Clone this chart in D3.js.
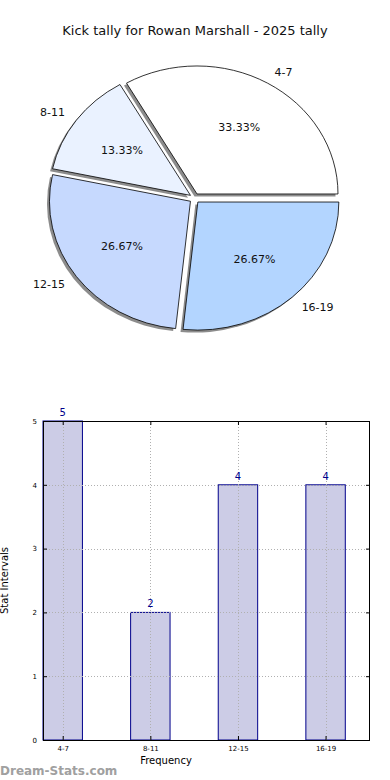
<!DOCTYPE html>
<html><head><meta charset="utf-8">
<script src="https://cdn.jsdelivr.net/npm/d3@7"></script>
<style>body{margin:0;background:#fff}svg{display:block;font-family:"DejaVu Sans",sans-serif}</style>
</head><body>
<svg id="c" width="390" height="780"></svg>
<script>
const title = "Kick tally for Rowan Marshall - 2025 tally";
const categories = ["4-7", "8-11", "12-15", "16-19"];
const values = [5, 2, 4, 4];
const pieColors = ["#ffffff", "#eaf2ff", "#c6d9fe", "#b3d5ff"];
const yTicks = [0, 1, 2, 3, 4, 5];

const svg = d3.select("#c");
svg.append("text").attr("x", 195).attr("y", 35).attr("text-anchor", "middle")
  .attr("font-size", 13).attr("fill", "#111").text(title);

// Pie (elliptical, counterclockwise from 3 o'clock like matplotlib)
const cx = 194.5, cy = 198.3, rx = 141, ry = 128, explode = 5;
const total = d3.sum(values);
const pie = d3.pie().sort(null).value(d => d)
  .startAngle(Math.PI / 2).endAngle(Math.PI / 2 - 2 * Math.PI);
const arcs = pie(values);
const arc = d3.arc().innerRadius(0).outerRadius(1);
const pg = svg.append("g");
function polar(a, r) { return [Math.sin(a) * r, -Math.cos(a) * r]; }
arcs.forEach((a, i) => {
  const mid = (a.startAngle + a.endAngle) / 2;
  const [ux, uy] = polar(mid, 1);
  const ox = cx + ux * explode, oy = cy + uy * explode;
  const path = arc({startAngle: a.startAngle, endAngle: a.endAngle});
  pg.append("path").attr("d", path)
    .attr("transform", `translate(${ox - 2.5},${oy + 2.5}) scale(${rx},${ry})`)
    .attr("fill", "#000").attr("fill-opacity", 0.45);
  a.ox = ox; a.oy = oy; a.mid = mid;
});
arcs.forEach((a, i) => {
  const path = arc({startAngle: a.startAngle, endAngle: a.endAngle});
  pg.append("path").attr("d", path)
    .attr("transform", `translate(${a.ox},${a.oy}) scale(${rx},${ry})`)
    .attr("fill", pieColors[i]).attr("stroke", "#000")
    .attr("stroke-width", 0.8).attr("vector-effect", "non-scaling-stroke");
});
arcs.forEach((a, i) => {
  const [ux, uy] = polar(a.mid, 1);
  const lx = a.ox + ux * rx * 1.1, ly = a.oy + uy * ry * 1.1;
  pg.append("text").attr("x", lx).attr("y", ly).attr("dy", "0.35em")
    .attr("text-anchor", ux >= 0 ? "start" : "end")
    .attr("font-size", 11).attr("fill", "#111").text(categories[i]);
  const px = a.ox + ux * rx * 0.6, py = a.oy + uy * ry * 0.6;
  pg.append("text").attr("x", px).attr("y", py).attr("dy", "0.35em")
    .attr("text-anchor", "middle").attr("font-size", 11).attr("fill", "#111")
    .text((values[i] / total * 100).toFixed(2) + "%");
});

// Bar chart
const L = 43, R = 370, T = 421, B = 740;
const x = d3.scaleLinear().domain([-0.225, 3.507]).range([L, R]);
const y = d3.scaleLinear().domain([0, 5]).range([B, T]);
const bw = x(0.45) - x(0);
const bg = svg.append("g");
bg.selectAll("rect.bar").data(values).join("rect").attr("class", "bar")
  .attr("x", (d, i) => x(i) - bw / 2).attr("width", bw)
  .attr("y", d => y(d)).attr("height", d => B - y(d))
  .attr("fill", "#cccce6").attr("stroke", "#00008b").attr("stroke-width", 1);
const grid = bg.append("g").attr("stroke", "#b0b0b0").attr("stroke-width", 1)
  .attr("stroke-dasharray", "1,2");
yTicks.forEach(t => grid.append("line").attr("x1", L).attr("x2", R)
  .attr("y1", Math.round(y(t)) + 0.5).attr("y2", Math.round(y(t)) + 0.5));
categories.forEach((c, i) => grid.append("line").attr("y1", T).attr("y2", B)
  .attr("x1", Math.round(x(i)) + 0.5).attr("x2", Math.round(x(i)) + 0.5));
const yAxis = d3.axisLeft(y).tickValues(yTicks).tickFormat(d3.format("d")).tickSize(-4).tickPadding(6);
const ya = bg.append("g").attr("transform", `translate(${L},0)`).call(yAxis);
ya.selectAll("text").attr("font-size", 7).attr("fill", "#000").attr("font-family", "DejaVu Sans");
ya.select(".domain").remove();
const yAxisR = d3.axisRight(y).tickValues(yTicks).tickSize(-4).tickFormat("");
const yr = bg.append("g").attr("transform", `translate(${R},0)`).call(yAxisR);
yr.select(".domain").remove();
const xAxis = d3.axisBottom(x).tickValues(d3.range(categories.length))
  .tickFormat(i => categories[i]).tickSize(-4).tickPadding(6);
const xa = bg.append("g").attr("transform", `translate(0,${B})`).call(xAxis);
xa.selectAll("text").attr("font-size", 7).attr("fill", "#000").attr("font-family", "DejaVu Sans");
xa.select(".domain").remove();
const xAxisT = d3.axisTop(x).tickValues(d3.range(categories.length)).tickSize(-4).tickFormat("");
const xt = bg.append("g").attr("transform", `translate(0,${T})`).call(xAxisT);
xt.select(".domain").remove();
bg.append("rect").attr("x", L + 0.5).attr("y", T + 0.5).attr("width", R - L - 1).attr("height", B - T)
  .attr("fill", "none").attr("stroke", "#000").attr("stroke-width", 1);
bg.selectAll("text.val").data(values).join("text").attr("class", "val")
  .attr("x", (d, i) => x(i)).attr("y", d => y(d) - 5).attr("text-anchor", "middle")
  .attr("font-size", 10).attr("fill", "#00008b").text(d => d);
bg.append("text").attr("x", 166).attr("y", 764).attr("text-anchor", "middle")
  .attr("font-size", 10).attr("fill", "#000").text("Frequency");
bg.append("text").attr("transform", `translate(8,${(T + B) / 2}) rotate(-90)`)
  .attr("text-anchor", "middle").attr("font-size", 10).attr("fill", "#000").text("Stat Intervals");
svg.append("text").attr("x", 0).attr("y", 775).attr("font-size", 12).attr("font-weight", 600)
  .attr("fill", "#a0a0a0").text("Dream-Stats.com");
</script>
</body></html>
